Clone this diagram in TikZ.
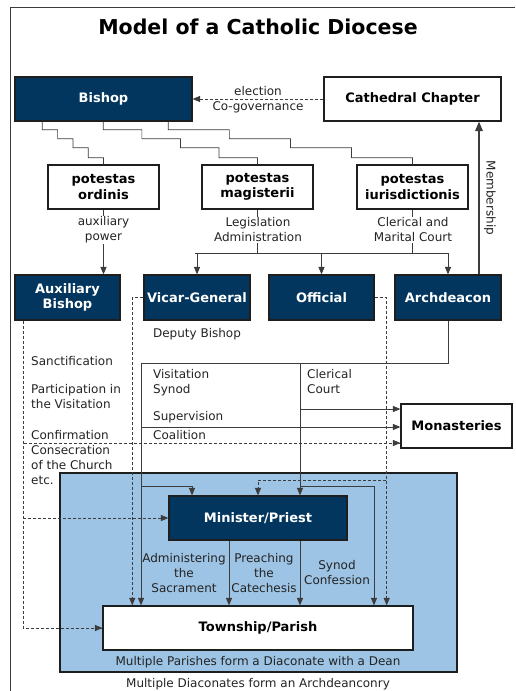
\documentclass[tikz,border=0pt]{standalone}
\usepackage{fontspec}
\setmainfont{DejaVu Sans}
\usepackage{tikz}
\usetikzlibrary{arrows,calc}
\definecolor{navy}{RGB}{3,54,94}
\definecolor{parishblue}{RGB}{157,196,228}
\definecolor{linec}{RGB}{60,60,60}
\definecolor{boxline}{RGB}{30,30,30}
\definecolor{txtc}{RGB}{35,35,35}
\tikzstyle{orgbox} = [draw=boxline, line width=1.4pt, inner sep=0pt, align=center, font=\fontsize{13}{15.5}\selectfont\bfseries, text=black]
\tikzstyle{darkbox} = [orgbox, fill=navy, text=white]
\tikzstyle{lightbox} = [orgbox, fill=white]
\tikzstyle{conn} = [draw=linec, line width=0.7pt]
\tikzstyle{arr} = [conn, -triangle 45]
\tikzstyle{darr} = [arr, dash pattern=on 3pt off 2pt]
\tikzstyle{lbl} = [inner sep=0pt, text=txtc, font=\fontsize{12}{15}\selectfont]

\begin{document}
\begin{tikzpicture}[yscale=-1]
	\useasboundingbox (0pt,0pt) rectangle (515pt,691pt);
	\draw[linec, line width=0.8pt] (10pt,691pt) -- (10pt,7pt) -- (515pt,7pt);
	\node[inner sep=0pt, font=\fontsize{20.5}{24}\selectfont\bfseries] (title) at (258pt,27pt) {Model of a Catholic Diocese};
	\node[darkbox, minimum width=177pt, minimum height=44pt] (bishop) at (103.5pt,99pt) {Bishop};
	\node[lightbox, minimum width=177pt, minimum height=44pt] (chapter) at (412.5pt,99pt) {Cathedral Chapter};
	\node[lightbox, minimum width=111pt, minimum height=44pt] (ordinis) at (103.5pt,187pt) {potestas\\ordinis};
	\node[lightbox, minimum width=111pt, minimum height=44pt] (magisterii) at (257.5pt,187pt) {potestas\\magisterii};
	\node[lightbox, minimum width=111pt, minimum height=44pt] (iuris) at (412.5pt,187pt) {potestas\\iurisdictionis};
	\node[darkbox, minimum width=105pt, minimum height=45pt] (auxbishop) at (67.5pt,297.5pt) {Auxiliary\\Bishop};
	\node[darkbox, minimum width=106pt, minimum height=45pt] (vicar) at (197pt,297.5pt) {Vicar-General};
	\node[darkbox, minimum width=105pt, minimum height=45pt] (official) at (321.5pt,297.5pt) {Official};
	\node[darkbox, minimum width=106pt, minimum height=45pt] (archdeacon) at (448pt,297.5pt) {Archdeacon};
	\node[lightbox, minimum width=111pt, minimum height=44pt] (monasteries) at (456.5pt,426pt) {Monasteries};
	\node[draw=boxline, line width=1.2pt, fill=parishblue, minimum width=397pt, minimum height=199pt, inner sep=0pt] (diaconate) at (258.5pt,572.5pt) {};
	\node[darkbox, minimum width=178pt, minimum height=44pt] (minister) at (258pt,518pt) {Minister/Priest};
	\node[lightbox, minimum width=310pt, minimum height=44pt] (township) at (258pt,628pt) {Township/Parish};

	\draw[darr] (chapter.west) -- (bishop.east);
	\node[lbl, anchor=base] (election) at (258pt,95pt) {election};
	\node[lbl, anchor=base] (cogov) at (258pt,110pt) {Co-governance};

	\foreach \xs/\t in {28/ordinis,89/magisterii,154/iuris}
		\draw[conn] let \p1=([xshift=\xs pt]bishop.south west), \p2=(\t.north), \n1={(\x2-\x1)/4} in
			([xshift=\xs pt]bishop.south west) -- ++(0pt,8pt) -- ++(\n1,0pt) -- ++(0pt,9pt) -- ++(\n1,0pt) -- ++(0pt,9pt) -- ++(\n1,0pt) -- ++(0pt,10pt) -- ++(\n1,0pt) -- (\t.north);

	\draw[arr] (ordinis.south) -- (ordinis.south |- auxbishop.north);
	\node[lbl, fill=white, align=center, inner sep=1pt] (auxpower) at (103.5pt,230pt) {auxiliary\\power};

	\coordinate (bus) at (258pt,253pt);
	\draw[conn] (magisterii.south) -- (magisterii.south |- bus);
	\draw[conn] (iuris.south) -- (iuris.south |- bus);
	\draw[conn] ([xshift=-2pt]vicar.north |- bus) -- (archdeacon.north |- bus);
	\foreach \t in {vicar,official,archdeacon}
		\draw[arr] (\t.north |- bus) -- (\t.north);
	\node[lbl, fill=white, align=center, inner sep=1pt] (legis) at (258pt,230pt) {Legislation\\Administration};
	\node[lbl, fill=white, align=center, inner sep=1pt] (court) at (413pt,230pt) {Clerical and\\Marital Court};

	\draw[arr, line width=1.2pt] ([xshift=31pt]archdeacon.north) -- ([xshift=31pt]archdeacon.north |- chapter.south);
	\node[lbl, rotate=-90] (member) at (490pt,198pt) {Membership};

	\coordinate (visit) at (141pt,363pt);
	\coordinate (clerc) at (300pt,363pt);
	\coordinate (sacr) at (141pt,486pt);
	\coordinate (syn) at (300pt,486pt);
	\coordinate (superv) at (300pt,409pt);
	\coordinate (coal) at (141pt,427pt);
	\coordinate (auxd) at ([xshift=9pt]auxbishop.south west);
	\coordinate (conf) at (24pt,443pt);
	\coordinate (offd) at (386pt,480pt);
	\draw[conn] (archdeacon.south) |- (visit);
	\draw[arr] (visit) -- (visit |- township.north);
	\draw[arr] (clerc) -- (clerc |- minister.north);
	\draw[arr] (sacr) -| ([xshift=-66pt]minister.north);
	\draw[arr] (syn) -| ([xshift=116pt]township.north);
	\draw[arr] (superv) -- (superv -| monasteries.west);
	\draw[arr] (coal) -- (coal -| monasteries.west);
	\draw[darr] (auxd) |- (township.west);
	\draw[darr] (auxd |- minister.west) -- (minister.west);
	\draw[darr] (conf) -- (conf -| monasteries.west);
	\draw[darr] (vicar.west) -- ++(-11pt,0pt) coordinate (vicd) -- (vicd |- township.north);
	\draw[darr] (official.east) -- ++(12pt,0pt) coordinate (offc) -- (offc |- township.north);
	\draw[darr] (offd) -| (minister.north);
	\draw[arr] ([xshift=-29pt]minister.south) -- ([xshift=-29pt]minister.south |- township.north);
	\draw[arr] ([xshift=42pt]minister.south) -- ([xshift=42pt]minister.south |- township.north);

	\node[lbl, anchor=base] (deputy) at (197pt,337pt) {Deputy Bishop};
	\node[lbl, anchor=base west] (sanct) at (31pt,365pt) {Sanctification};
	\node[lbl, anchor=base west, align=left] (partic) at (31pt,408pt) {Participation in\\the Visitation};
	\node[lbl, anchor=base west, align=left] (confirm) at (31pt,484pt) {Confirmation\\Consecration\\of the Church\\etc.};
	\node[lbl, anchor=base west, align=left] (visyn) at (153pt,393pt) {Visitation\\Synod};
	\node[lbl, anchor=base west] (superl) at (153pt,420pt) {Supervision};
	\node[lbl, anchor=base west] (coall) at (153pt,439pt) {Coalition};
	\node[lbl, anchor=base west, align=left] (clcourt) at (307pt,393pt) {Clerical\\Court};
	\node[lbl, anchor=base, align=center] (admin) at (184pt,592pt) {Administering\\the\\Sacrament};
	\node[lbl, anchor=base, align=center] (preach) at (264pt,592pt) {Preaching\\the\\Catechesis};
	\node[lbl, anchor=base, align=center] (synconf) at (337pt,584pt) {Synod\\Confession};
	\node[lbl, anchor=base] (diacnote) at (258pt,665pt) {Multiple Parishes form a Diaconate with a Dean};
	\node[lbl, anchor=base] (archnote) at (258pt,687pt) {Multiple Diaconates form an Archdeanconry};
\end{tikzpicture}
\end{document}
